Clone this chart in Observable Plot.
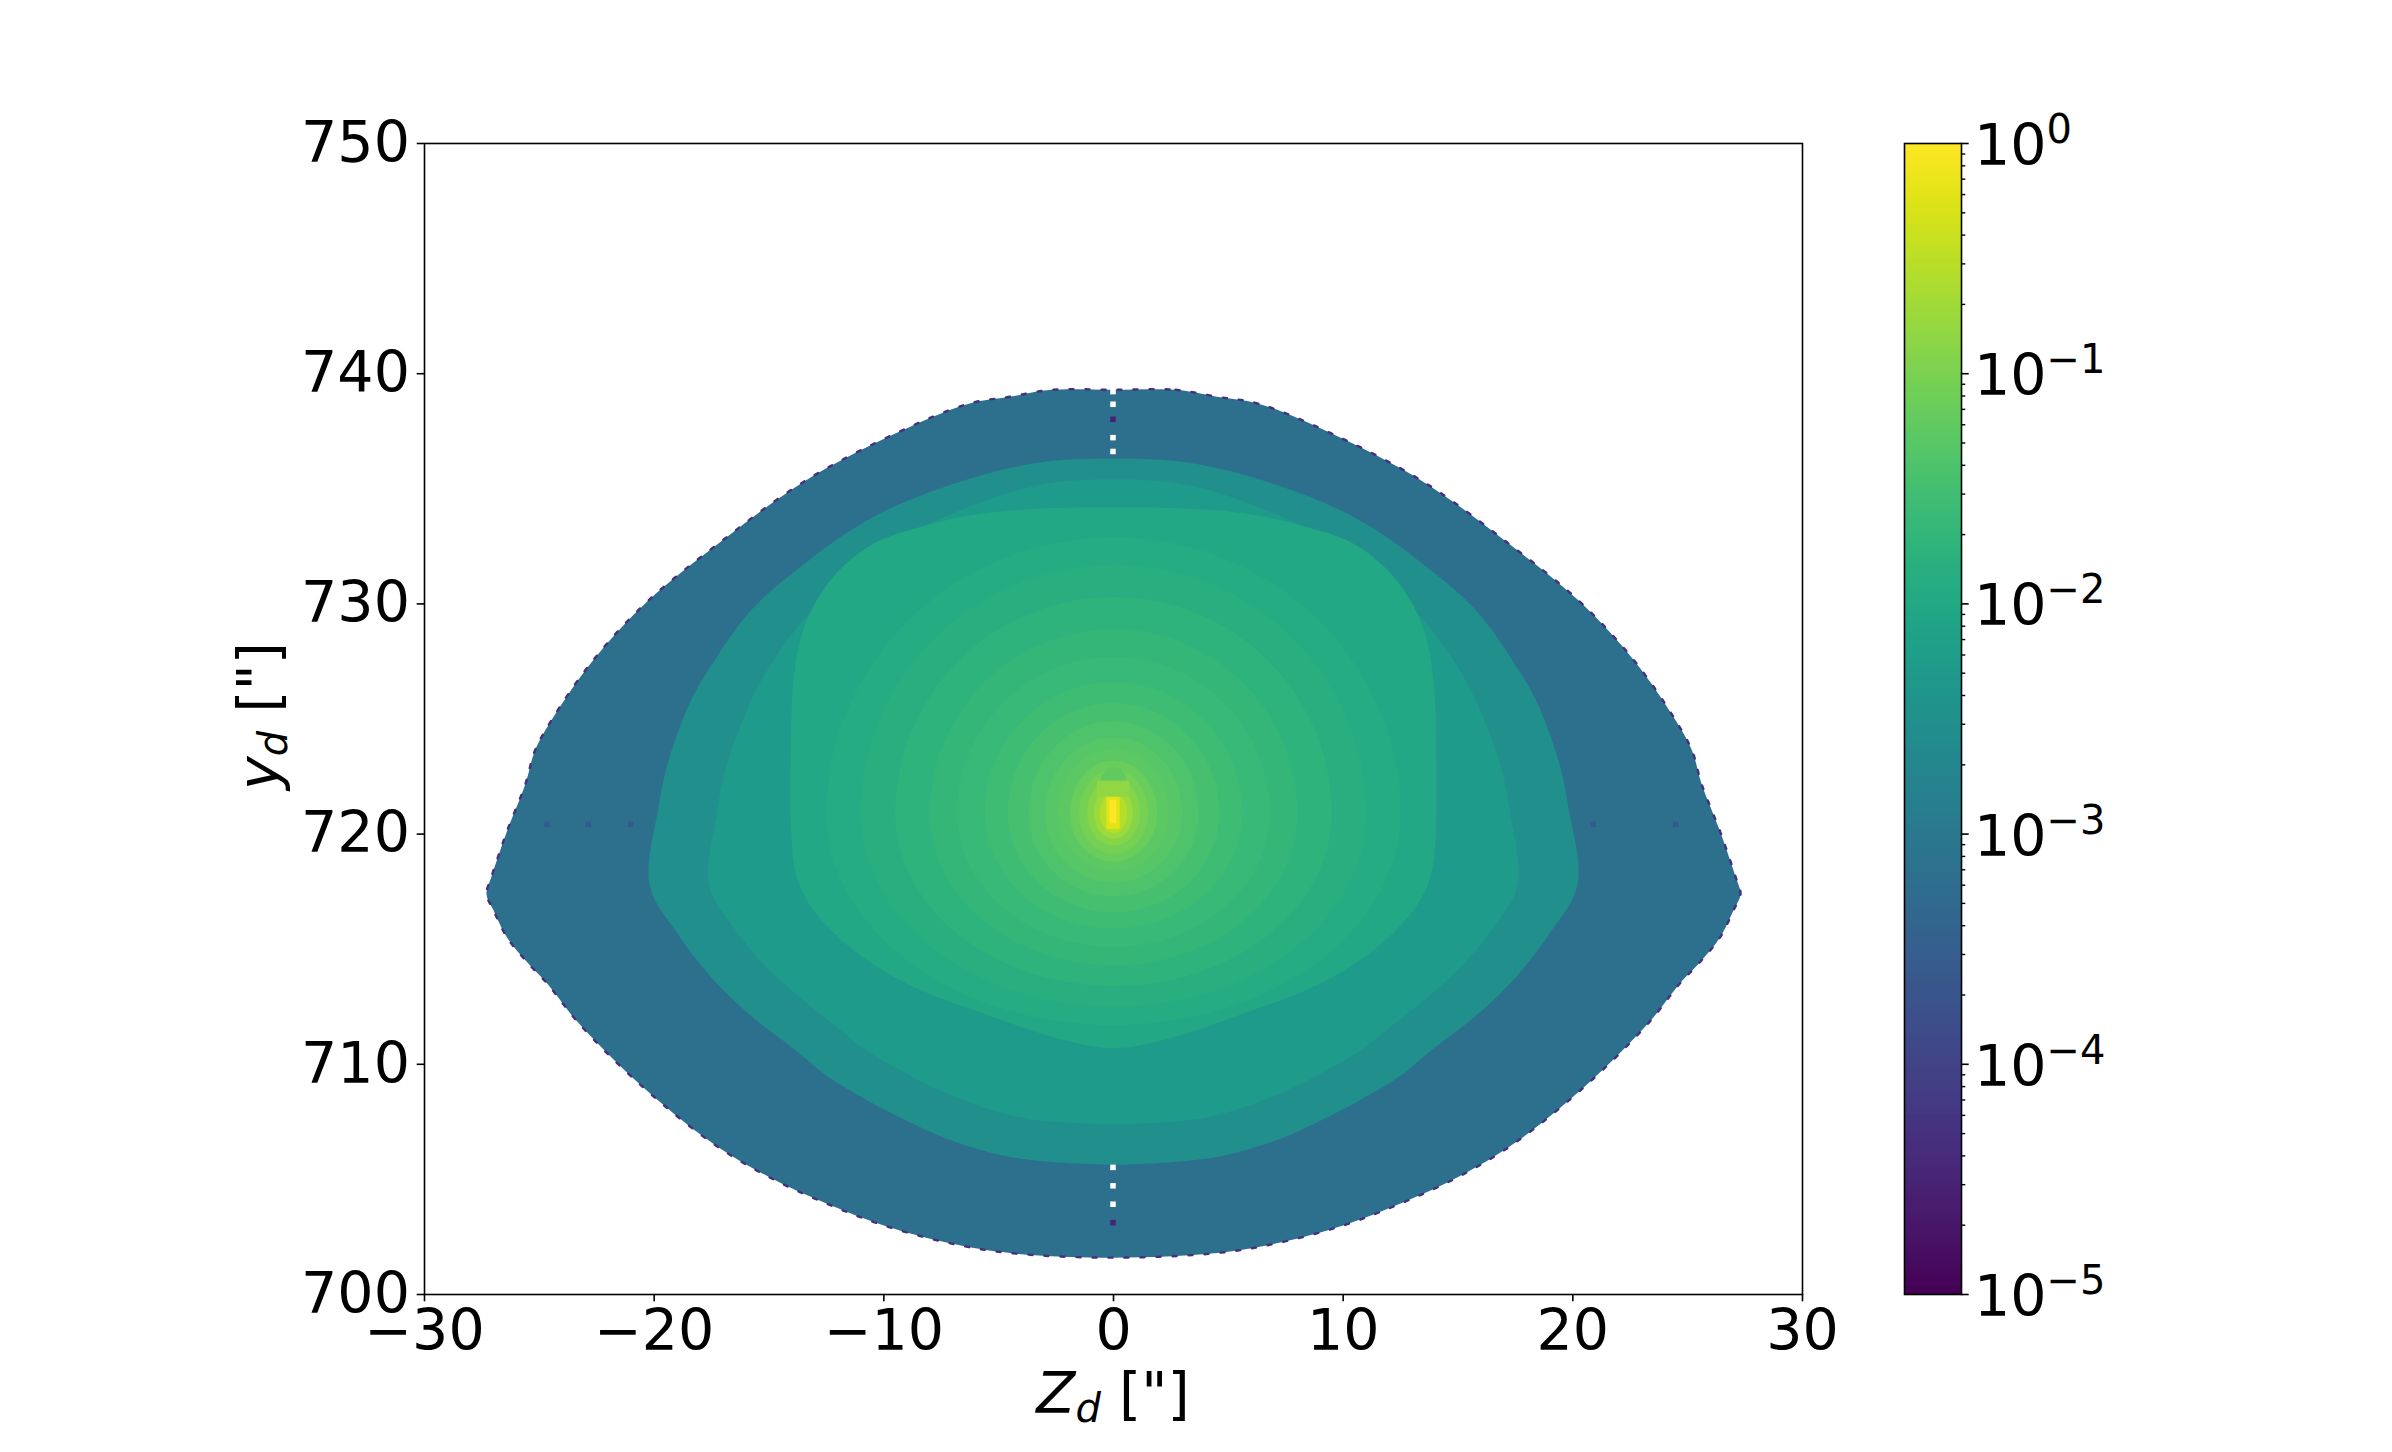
<!DOCTYPE html>
<html><head><meta charset="utf-8">
<script src="https://cdn.jsdelivr.net/npm/d3@7"></script>
<script src="https://cdn.jsdelivr.net/npm/@observablehq/plot@0.6"></script>
<style>
html,body{margin:0;padding:0;background:#fff;}
#wrap{position:relative;width:2392px;height:1452px;overflow:hidden;background:#fff;}
#main{position:absolute;left:0;top:0;}
#cbar{position:absolute;left:1890px;top:0;}
</style></head><body><div id="wrap"><div id="main"></div><div id="cbar"></div></div>
<script>
// ---------- axes ----------
const xDomain = [-30, 30];
const yDomain = [700, 750];
const xTicks = [-30, -20, -10, 0, 10, 20, 30];
const yTicks = [700, 710, 720, 730, 740, 750];
const cDomain = [1e-5, 1];
const cbMajor = [1e-5, 1e-4, 1e-3, 1e-2, 1e-1, 1];
const cbExp = ["−5", "−4", "−3", "−2", "−1", "0"];
const cbMinorMult = [2, 3, 4, 5, 6, 7, 8, 9];

// ---------- regions (right half, clockwise from top centre to bottom centre) ----------
const lensX = [0, 2.7, 4.5, 6.3, 9.5, 13.5, 17.1, 20.3, 22.7, 24.5, 25.2, 25.6, 26.4, 26.7, 27.1, 27.3, 27.0, 26.4, 25.5, 24.65, 23.3, 20.7, 17.5, 15.0, 12.5, 10.0, 7.0, 4.5, 0];
const lensY = [739.3, 739.3, 739.0, 738.7, 737.4, 735.3, 732.7, 730.1, 727.5, 724.9, 723.6, 722.2, 720.15, 719.3, 718.1, 717.4, 716.7, 715.5, 714.4, 713.5, 711.8, 709.2, 706.6, 705.1, 703.95, 703.0, 702.2, 701.8, 701.6];
const lensV = 6.8e-4;

const ring2X = [0, 3.5, 7.3, 10.7, 13.9, 15.8, 17.4, 18.4, 19.4, 19.8, 20.2, 19.0, 17.35, 15.65, 13.95, 12.35, 10.65, 9.0, 7.35, 5.65, 4.0, 0];
const ring2Y = [736.3, 736.1, 735.1, 733.65, 731.4, 729.7, 727.5, 725.8, 723.1, 721.2, 717.8, 715.7, 713.6, 712.0, 710.7, 709.4, 708.4, 707.55, 706.8, 706.25, 705.9, 705.65];
const ring2V = 3.16e-3;

const ring3X = [0, 3.05, 6.35, 9.3, 12.1, 13.75, 15.15, 16.0, 16.9, 17.25, 17.6, 16.55, 15.1, 13.6, 12.15, 10.75, 9.3, 7.85, 6.4, 4.9, 3.5, 0];
const ring3Y = [735.4, 735.2, 734.2, 732.8, 730.7, 729.0, 727.0, 725.3, 722.8, 721.0, 717.8, 715.95, 714.2, 712.85, 711.7, 710.6, 709.75, 709.0, 708.4, 707.9, 707.6, 707.4];
const ring3V = 5.4e-3;

const ring4X = [0, 3, 5.9, 8.2, 10.3, 11.8, 12.9, 13.6, 13.95, 14.05, 14.05, 13.9, 13.6, 13.0, 11.5, 9.0, 5.65, 2.35, 0];
const ring4Y = [734.2, 734.15, 733.9, 733.4, 732.7, 731.6, 730.2, 728.6, 726.5, 723.5, 720.5, 718.6, 717.6, 716.6, 715.1, 713.5, 712.2, 711.1, 710.7];
const ring4V = 1.0e-2;

// ---------- inner gradient levels (ellipse half-widths / heights above & below centre) ----------
const gradCY = 720.9;
const gradA   = [12.5, 11.0, 9.5, 8.0, 6.8, 5.6, 4.6, 3.7, 3.0, 2.4, 1.9, 1.5, 1.15, 0.85, 0.6];
const gradTop = [12.0, 10.8, 9.4, 8.0, 6.8, 5.7, 4.8, 4.0, 3.3, 2.8, 2.3, 1.9, 1.55, 1.2, 0.9];
const gradBot = [9.2, 8.4, 7.5, 6.6, 5.8, 5.0, 4.3, 3.6, 3.0, 2.5, 2.1, 1.75, 1.4, 1.1, 0.85];
const gradV   = [0.0119, 0.0141, 0.0168, 0.0200, 0.0237, 0.0282, 0.0335, 0.0398, 0.0473, 0.0562, 0.0708, 0.0891, 0.126, 0.178, 0.282];

// ---------- central source ----------
const domeCY = 722.3, domeA = 0.55, domeTop = 0.6, domeV = 0.06;
const coreX1 = [-0.7, -0.29, -0.145];
const coreX2 = [0.7, 0.29, 0.145];
const coreY1 = [721.6, 720.2, 720.45];
const coreY2 = [722.3, 721.6, 721.45];
const coreV  = [0.15, 0.6, 1.0];

// ---------- artefact pixels ----------
const gapY = [739.2, 738.65, 737.2, 736.6, 705.5, 704.7, 703.9];   // white pixels on x = 0
const darkColY = [738.0, 703.1]; const darkColV = 3e-5;
const rowDotX = [-24.65, -22.85, -21.0, 20.9, 24.5]; const rowDotY = 720.4; const rowDotV = 2.5e-4;
const pix = 0.12;

// ---------- build tables ----------
function mirrorPoly(id, hx, hy, v) {
  const rows = [];
  const n = hx.length;
  for (let i = 0; i < n; i++) rows.push({id, x: hx[i], y: hy[i], v});
  for (let i = n - 2; i > 0; i--) rows.push({id, x: -hx[i], y: hy[i], v});
  return rows;
}
function ellipseHalf(a, bt, bb, cy) {
  const hx = [], hy = [];
  for (let k = 0; k <= 32; k++) {
    const th = Math.PI * k / 32, c = Math.cos(th);
    hx.push(a * Math.sin(th));
    hy.push(cy + (c >= 0 ? bt : bb) * c);
  }
  return [hx, hy];
}
let shapes = [];
shapes = shapes.concat(mirrorPoly("lens", lensX, lensY, lensV));
shapes = shapes.concat(mirrorPoly("ring2", ring2X, ring2Y, ring2V));
shapes = shapes.concat(mirrorPoly("ring3", ring3X, ring3Y, ring3V));
shapes = shapes.concat(mirrorPoly("ring4", ring4X, ring4Y, ring4V));
gradA.forEach((a, i) => {
  const [hx, hy] = ellipseHalf(a, gradTop[i], gradBot[i], gradCY);
  shapes = shapes.concat(mirrorPoly("g" + i, hx, hy, gradV[i]));
});
const [dhx, dhy] = ellipseHalf(domeA, domeTop, 0.02, domeCY);
shapes = shapes.concat(mirrorPoly("dome", dhx, dhy, domeV));
const edge = mirrorPoly("edge", lensX, lensY, 5e-5);

const rects = [];
coreX1.forEach((x1, i) => rects.push({x1, x2: coreX2[i], y1: coreY1[i], y2: coreY2[i], v: coreV[i]}));
darkColY.forEach(y => rects.push({x1: -pix, x2: pix, y1: y - pix, y2: y + pix, v: darkColV}));
rowDotX.forEach(x => rects.push({x1: x - pix, x2: x + pix, y1: rowDotY - pix, y2: rowDotY + pix, v: rowDotV}));
const gaps = gapY.map(y => ({x1: -pix, x2: pix, y1: y - pix, y2: y + pix}));

const colorOpts = {type: "log", domain: cDomain, scheme: "viridis"};

// ---------- main chart ----------
const main = Plot.plot({
  width: 1880, height: 1452,
  marginLeft: 424, marginRight: 78, marginTop: 143, marginBottom: 158,
  x: {domain: xDomain, ticks: xTicks, tickSize: 7.3, tickPadding: 7.3, label: null},
  y: {domain: yDomain, ticks: yTicks, tickSize: 7.3, tickPadding: 7.3, label: null},
  color: colorOpts,
  style: {fontFamily: "DejaVu Sans", fontSize: "57px", color: "black", background: "white"},
  marks: [
    Plot.line(shapes, {x: "x", y: "y", z: "id", fill: "v", curve: "catmull-rom-closed"}),
    Plot.line(edge, {x: "x", y: "y", stroke: "v", curve: "catmull-rom-closed", strokeWidth: 2.4, strokeDasharray: "4 12"}),
    Plot.rect(rects, {x1: "x1", x2: "x2", y1: "y1", y2: "y2", fill: "v"}),
    Plot.rect(gaps, {x1: "x1", x2: "x2", y1: "y1", y2: "y2", fill: "white"}),
    Plot.frame({stroke: "black", strokeWidth: 1.6})
  ]
});
document.getElementById("main").appendChild(main);
const msvg = d3.select(main.tagName.toLowerCase() === "svg" ? main : main.querySelector("svg"));
msvg.selectAll("text").style("font-size", "57px").style("font-family", "DejaVu Sans").style("fill", "#000");
msvg.selectAll('g[aria-label^="x-axis"] line, g[aria-label^="y-axis"] line, g[aria-label^="x-axis"] path, g[aria-label^="y-axis"] path')
  .style("stroke-width", "1.6px").style("stroke", "#000");

function axisLabel(sel, letter) {
  sel.attr("text-anchor", "middle").style("font-size", "57px").style("font-family", "DejaVu Sans").style("fill", "#000");
  sel.append("tspan").style("font-style", "italic").text(letter);
  sel.append("tspan").style("font-style", "italic").style("font-size", "40px").attr("dy", 9).text("d");
  sel.append("tspan").attr("dy", -9).text(" [\"]");
}
axisLabel(msvg.append("text").attr("x", 1113).attr("y", 1413), "Z");
axisLabel(msvg.append("text").attr("transform", "translate(278,716) rotate(-90)"), "y");

// ---------- colorbar ----------
const nSteps = 300;
const ramp = d3.range(nSteps).map(i => {
  const lo = Math.pow(10, -5 + 5 * i / nSteps), hi = Math.pow(10, -5 + 5 * (i + 1) / nSteps);
  return {lo, hi, v: Math.sqrt(lo * hi)};
});
const minor = [];
cbMajor.slice(0, -1).forEach(m => cbMinorMult.forEach(k => minor.push(m * k)));
const barW = 57;
const cb = Plot.plot({
  width: 502, height: 1452,
  marginLeft: 14, marginRight: 431, marginTop: 143, marginBottom: 158,
  x: {domain: [0, 1], axis: null},
  y: {type: "log", domain: cDomain, axis: null},
  color: colorOpts,
  style: {background: "white"},
  marks: [
    Plot.rect(ramp, {x1: () => 0, x2: () => 1, y1: "lo", y2: "hi", fill: "v", shapeRendering: "crispEdges"}),
    Plot.ruleY(minor, {y: d => d, x1: () => 1, x2: () => 1 + 4.3 / barW, stroke: "black", strokeWidth: 1.4}),
    Plot.ruleY(cbMajor, {y: d => d, x1: () => 1, x2: () => 1 + 7.7 / barW, stroke: "black", strokeWidth: 1.6}),
    Plot.frame({stroke: "black", strokeWidth: 1.6})
  ]
});
document.getElementById("cbar").appendChild(cb);
const csvg = d3.select(cb.tagName.toLowerCase() === "svg" ? cb : cb.querySelector("svg"));
const ys = cb.scale("y");
cbMajor.forEach((m, i) => {
  const py = ys.apply(m);
  const t = csvg.append("text").attr("x", 84).attr("y", py + 22).attr("text-anchor", "start")
    .style("font-size", "57px").style("font-family", "DejaVu Sans").style("fill", "#000");
  t.append("tspan").text("10");
  t.append("tspan").attr("dy", -22).style("font-size", "40px").text(cbExp[i]);
});
</script></body></html>
